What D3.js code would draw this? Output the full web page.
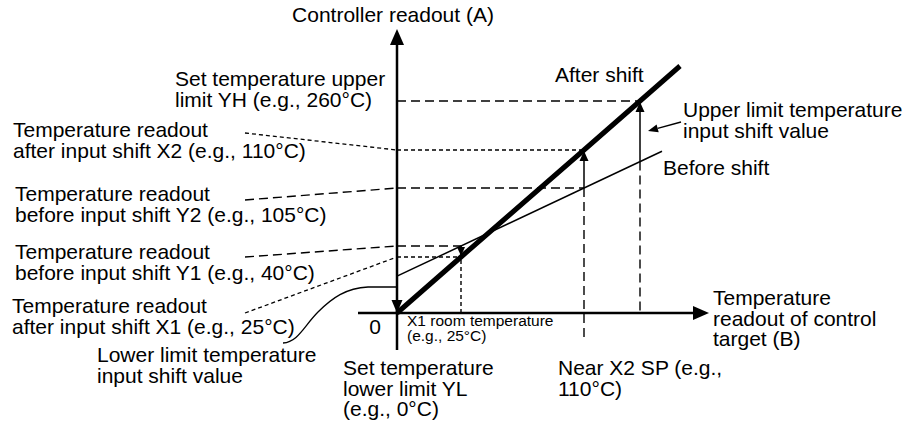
<!DOCTYPE html>
<html>
<head>
<meta charset="utf-8">
<script src="https://cdn.jsdelivr.net/npm/d3@7"></script>
<style>
  html, body { margin: 0; padding: 0; background: #fff; }
  svg { display: block; font-family: "Liberation Sans", Arial, Helvetica, sans-serif; }
</style>
</head>
<body>
<svg id="chart" width="916" height="425"></svg>
<script>
// Temperatures (°C) marked along the control-target axis:
// origin, X1 room temperature, X2 near SP, where YH is reached, end of the drawn line
const targetTemps = [0, 25, 110, 260, 300];
// Controller readouts (°C) marked along the readout axis
const readoutTemps = [0, 25, 40, 105, 110, 260, 300];

// Readout before the input shift at X1 and X2 (Y1, Y2)
const beforeTarget = [25, 110];
const beforeReadout = [40, 105];

// Readout after the input shift: follows the target temperature
const afterTarget = [0, 25, 110, 260, 300];
const afterReadout = [0, 25, 110, 260, 300];

// Set temperature limits
const limitYL = 0;
const limitYH = 260;

// Label texts
const axisTitleY = "Controller readout (A)";
const axisTitleX = ["Temperature", "readout of control", "target (B)"];
const labelYH = ["Set temperature upper", "limit YH (e.g., 260°C)"];
const labelX2 = ["Temperature readout", "after input shift X2 (e.g., 110°C)"];
const labelY2 = ["Temperature readout", "before input shift Y2 (e.g., 105°C)"];
const labelY1 = ["Temperature readout", "before input shift Y1 (e.g., 40°C)"];
const labelX1 = ["Temperature readout", "after input shift X1 (e.g., 25°C)"];
const labelLowerShift = ["Lower limit temperature", "input shift value"];
const labelUpperShift = ["Upper limit temperature", "input shift value"];
const labelYL = ["Set temperature", "lower limit YL", "(e.g., 0°C)"];
const labelNearSP = ["Near X2 SP (e.g.,", "110°C)"];
const labelRoom = ["X1 room temperature", "(e.g., 25°C)"];
const labelAfter = "After shift";
const labelBefore = "Before shift";
const labelZero = "0";

// Schematic (not-to-scale) positioning of the example values
const x = d3.scaleLinear().domain(targetTemps).range([397, 461, 584, 640, 680]);
const y = d3.scaleLinear().domain(readoutTemps).range([313, 257, 246, 188, 150, 101, 66]);

const svg = d3.select("#chart");
const FS = 21, LH = 20.5;
const X0 = x(limitYL), Y0 = y(0);

const LONG = "9,5", SHORT = "4,3";

function seg(g, x1, y1, x2, y2, w, dash) {
  const l = g.append("line")
    .attr("x1", x1).attr("y1", y1).attr("x2", x2).attr("y2", y2)
    .attr("stroke", "#000").attr("stroke-width", w);
  if (dash) l.attr("stroke-dasharray", dash);
  return l;
}

// line ending in a filled arrowhead at (x2, y2)
function arrow(g, x1, y1, x2, y2, w, len, half) {
  const dx = x2 - x1, dy = y2 - y1, d = Math.hypot(dx, dy);
  const ux = dx / d, uy = dy / d;
  const bx = x2 - ux * len, by = y2 - uy * len;
  seg(g, x1, y1, bx, by, w);
  g.append("path")
    .attr("d", `M${x2},${y2}L${bx - uy * half},${by + ux * half}L${bx + uy * half},${by - ux * half}Z`)
    .attr("fill", "#000");
}

function textBlock(lines, tx, ty, size, anchor) {
  const t = svg.append("text")
    .attr("x", tx).attr("y", ty)
    .attr("font-size", size)
    .attr("fill", "#000")
    .attr("text-anchor", anchor || "start");
  lines.forEach((s, i) => {
    t.append("tspan").attr("x", tx).attr("y", ty + i * LH * size / FS).text(s);
  });
  return t;
}

// Before-shift line through the two calibration points (pixel space, extended)
const p1 = [x(beforeTarget[0]), y(beforeReadout[0])];
const p2 = [x(beforeTarget[1]), y(beforeReadout[1])];
const beforeY = px => p1[1] + (px - p1[0]) * (p2[1] - p1[1]) / (p2[0] - p1[0]);

const guides = svg.append("g");

// Horizontal guides from the readout axis
seg(guides, X0, y(limitYH), x(limitYH), y(limitYH), 1.4, LONG);
seg(guides, X0, y(afterReadout[2]), x(afterTarget[2]), y(afterReadout[2]), 1.4, SHORT);
seg(guides, X0, y(beforeReadout[1]), x(beforeTarget[1]), y(beforeReadout[1]), 1.4, LONG);
seg(guides, X0, y(beforeReadout[0]), x(beforeTarget[0]), y(beforeReadout[0]), 1.4, LONG);
seg(guides, X0, y(afterReadout[1]), x(afterTarget[1]), y(afterReadout[1]), 1.4, SHORT);

// Vertical guides down to the target axis
seg(guides, x(beforeTarget[0]), y(beforeReadout[0]), x(beforeTarget[0]), Y0, 1.4, SHORT);
seg(guides, x(beforeTarget[1]), y(beforeReadout[1]), x(beforeTarget[1]), Y0 + 27, 1.4, LONG);
seg(guides, x(limitYH), beforeY(x(limitYH)), x(limitYH), Y0 - 2, 1.4, LONG);

// Leader lines from the left labels
seg(guides, 245, 133, X0, y(afterReadout[2]), 1.3, SHORT);
seg(guides, 245, 200, X0, y(beforeReadout[1]), 1.4, LONG);
seg(guides, 245, 257, X0, y(beforeReadout[0]), 1.4, LONG);
seg(guides, 245, 313, X0, y(afterReadout[1]), 1.3, SHORT);

// Leader curve for the lower-limit shift value
svg.append("path")
  .attr("d", `M283,343C298,342 304,326 318,312S346,288 368,287L${X0},287`)
  .attr("fill", "none").attr("stroke", "#000").attr("stroke-width", 1.3);

// Axes
const axes = svg.append("g");
seg(axes, X0 - 39, Y0, 694, Y0, 2.5);
axes.append("path").attr("d", `M709,${Y0}L693,${Y0 - 7}L693,${Y0 + 7}Z`).attr("fill", "#000");
seg(axes, X0, Y0 + 37, X0, 44, 2.5);
axes.append("path").attr("d", `M${X0},29L${X0 - 7},45L${X0 + 7},45Z`).attr("fill", "#000");

// Before-shift line
seg(svg, X0, beforeY(X0), 662, beforeY(662), 1.5);

// After-shift line
svg.append("path")
  .datum(afterTarget.map((t, i) => [t, afterReadout[i]]))
  .attr("d", d3.line().x(d => x(d[0])).y(d => y(d[1])))
  .attr("fill", "none").attr("stroke", "#000").attr("stroke-width", 5);

// Shift arrows
const arrows = svg.append("g");
arrow(arrows, X0, beforeY(X0), X0, Y0, 1.5, 13, 5.5);
arrow(arrows, x(beforeTarget[0]), y(beforeReadout[0]), x(afterTarget[1]), y(afterReadout[1]) - 1, 1.5, 9, 4);
arrow(arrows, x(beforeTarget[1]), y(beforeReadout[1]), x(afterTarget[2]), y(afterReadout[2]) + 1, 1.5, 10, 4.5);
arrow(arrows, x(limitYH), beforeY(x(limitYH)), x(limitYH), y(limitYH) + 1, 1.5, 10, 4.5);
arrow(arrows, 681, 122, x(limitYH) + 8, 131, 1.5, 10, 4);

// Texts
svg.append("text").attr("x", X0 - 4).attr("y", 22).attr("font-size", FS)
  .attr("text-anchor", "middle").text(axisTitleY);
textBlock(axisTitleX, 713, 305, FS);
textBlock(labelYH, 175, 86, FS);
textBlock(labelX2, 13, 137, FS);
textBlock(labelY2, 15, 201, FS);
textBlock(labelY1, 15, 259, FS);
textBlock(labelX1, 12, 313, FS);
textBlock(labelLowerShift, 97, 362, FS);
textBlock(labelYL, 343, 375, FS);
textBlock(labelNearSP, 558, 375, FS);
textBlock(labelRoom, 407, 326, 15.5);
textBlock(labelUpperShift, 683, 117, FS);
svg.append("text").attr("x", 555).attr("y", 82).attr("font-size", FS).text(labelAfter);
svg.append("text").attr("x", 663).attr("y", 175).attr("font-size", FS).text(labelBefore);
svg.append("text").attr("x", X0 - 16).attr("y", 334).attr("font-size", FS)
  .attr("text-anchor", "end").text(labelZero);
</script>
</body>
</html>
